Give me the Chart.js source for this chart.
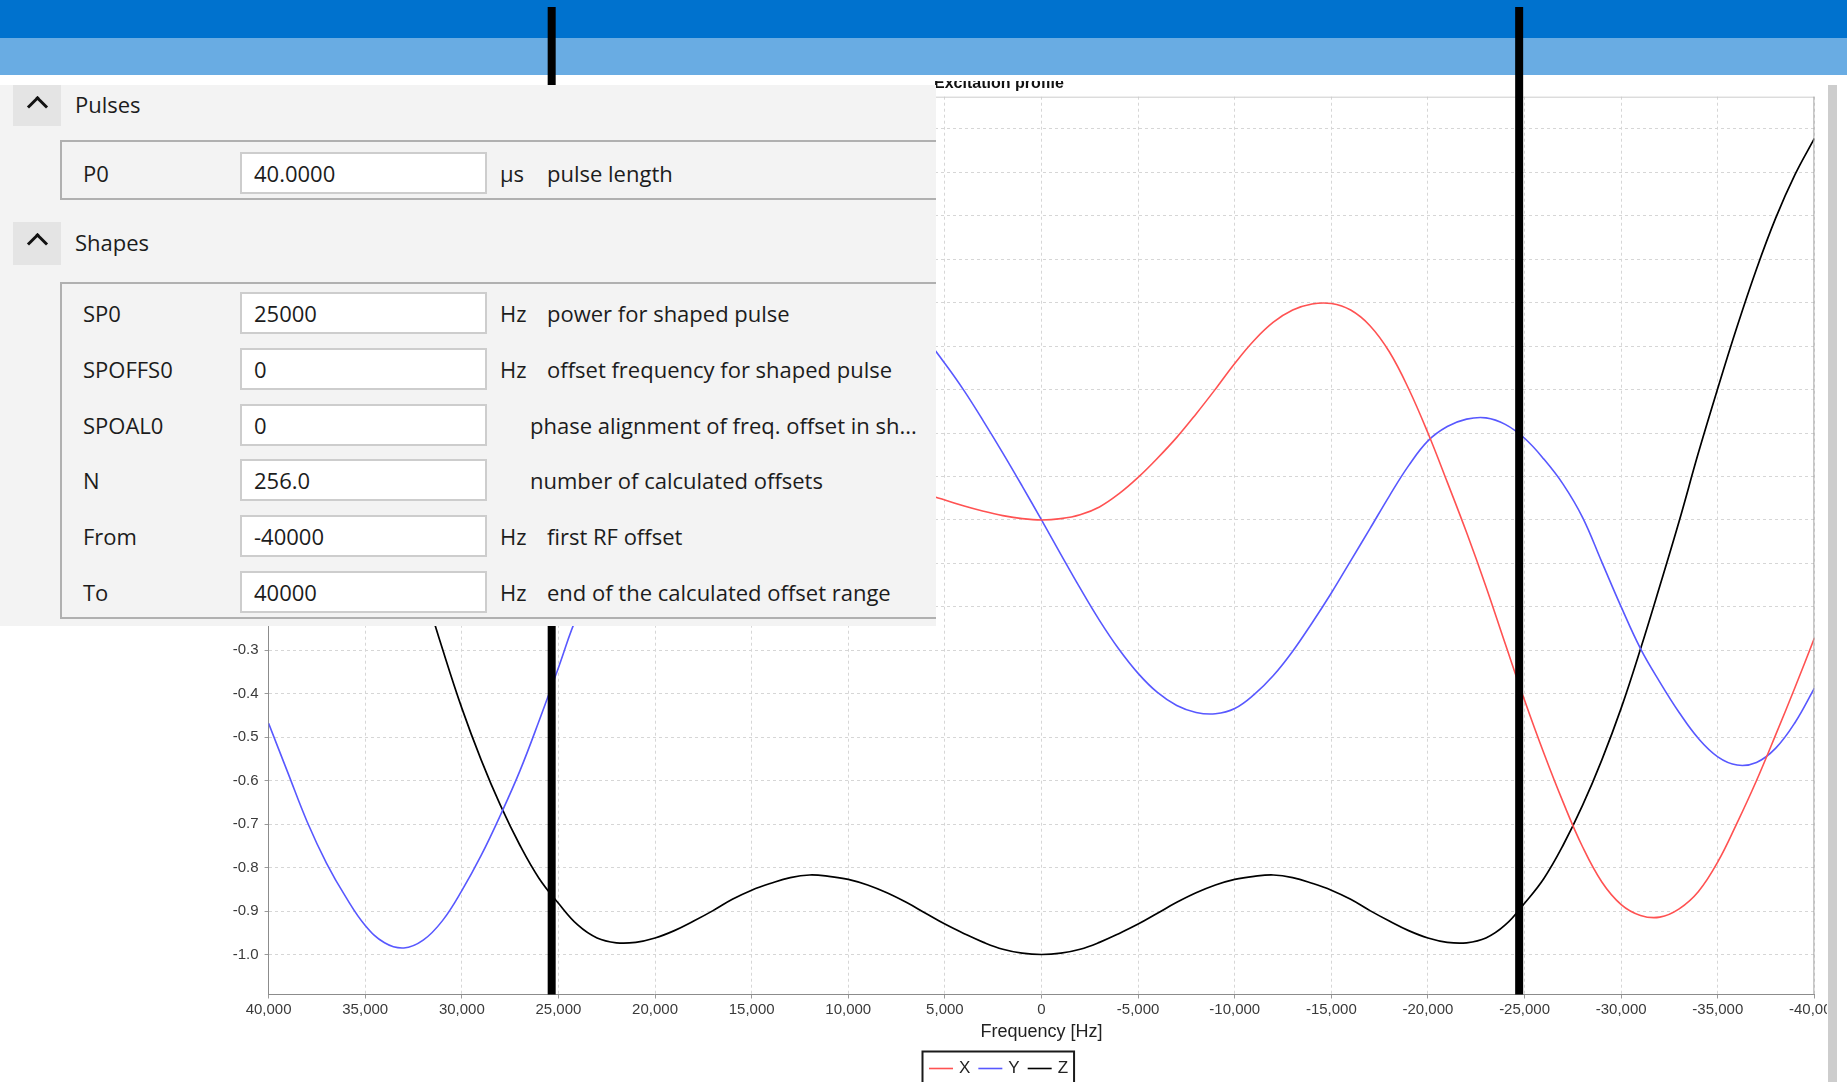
<!DOCTYPE html>
<html>
<head>
<meta charset="utf-8">
<title>Excitation profile</title>
<script src="https://cdn.jsdelivr.net/npm/chart.js@4.4.1/dist/chart.umd.min.js"></script>
<style>
  html, body { margin: 0; padding: 0; background: #fff; width: 1847px; height: 1082px; overflow: hidden; }
  #chart { position: absolute; left: 0; top: 0; z-index: 1; }
  .panel {
    position: absolute; left: 0; top: 85px; width: 936px; height: 541px;
    background: #f3f3f3; overflow: hidden; z-index: 3;
    font-family: "Open Sans", "Noto Sans", sans-serif; font-size: 22px; color: #1c1c1c;
  }
  .toggle { position: absolute; left: 13px; width: 48px; height: 41px; background: #e4e4e4; }
  .toggle::before {
    content: ""; position: absolute; left: 17px; top: 14px; width: 15px; height: 15px;
    box-sizing: border-box; border-left: 3.5px solid #111; border-top: 3.5px solid #111;
    transform: rotate(45deg);
  }
  .section { position: absolute; left: 75px; line-height: 22px; white-space: nowrap; }
  .group { position: absolute; left: 60px; width: 920px; box-sizing: border-box; border: 2px solid #b0b0b0; }
  .row { position: absolute; left: 0; width: 936px; height: 42px; line-height: 42px; white-space: nowrap; }
  .row span { position: absolute; top: 0; }
  .row .field {
    left: 240px; width: 247px; height: 42px; box-sizing: border-box;
    background: #fff; border: 2px solid #cdcdcd; padding-left: 12px; line-height: 38px;
  }
  .scroll { position: absolute; left: 1827px; top: 81px; width: 20px; height: 1001px; background: #fff; z-index: 2; }
  .scroll::before { content: ""; position: absolute; left: 1px; top: 4px; width: 9px; bottom: 0; background: #cdcdcd; }
</style>
</head>
<body>
<canvas id="chart" width="1847" height="1082"></canvas>
<div class="scroll"></div>
<div class="panel" id="panel"></div>

<script>
// Offset frequencies (Hz), left to right on the reversed axis
const freqHz = [
  40000, 39000, 38000, 37000, 36000, 35000, 34000, 33000, 32000, 31000,
  30000, 29000, 28000, 27000, 26000, 25000, 24000, 23000, 22000, 21000,
  20000, 19000, 18000, 17000, 16000, 15000, 14000, 13000, 12000, 11000,
  10000, 9000, 8000, 7000, 6000, 5000, 4000, 3000, 2000, 1000,
  0,
  -1000, -2000, -3000, -4000, -5000, -6000, -7000, -8000, -9000, -10000,
  -11000, -12000, -13000, -14000, -15000, -16000, -17000, -18000, -19000, -20000,
  -21000, -22000, -23000, -24000, -25000, -26000, -27000, -28000, -29000, -30000,
  -31000, -32000, -33000, -34000, -35000, -36000, -37000, -38000, -39000, -40000
];

// Magnetisation components after the pulse
const xValues = [
  0.12, 0.14, 0.15, 0.155, 0.16, 0.16, 0.17, 0.19, 0.22, 0.26,
  0.29, 0.31, 0.32, 0.33, 0.34, 0.33, 0.287, 0.237, 0.208, 0.222,
  0.266, 0.325, 0.382, 0.433, 0.471, 0.494, 0.49, 0.47, 0.43, 0.35,
  0.28, 0.21, 0.15, 0.1, 0.062, 0.046, 0.032, 0.02, 0.01, 0.003,
  0.0,
  0.003, 0.012, 0.03, 0.06, 0.098, 0.142, 0.19, 0.244, 0.301, 0.36,
  0.413, 0.455, 0.483, 0.497, 0.498, 0.483, 0.447, 0.387, 0.302, 0.2,
  0.087, -0.029, -0.153, -0.285, -0.415, -0.537, -0.65, -0.752, -0.833, -0.885,
  -0.91, -0.914, -0.895, -0.855, -0.787, -0.697, -0.6, -0.494, -0.385, -0.272
];
const yValues = [
  -0.468, -0.582, -0.695, -0.79, -0.868, -0.933, -0.973, -0.985, -0.967, -0.922,
  -0.853, -0.772, -0.679, -0.578, -0.462, -0.34, -0.218, -0.14, -0.09, -0.072,
  -0.058, -0.035, 0.002, 0.052, 0.111, 0.178, 0.244, 0.308, 0.368, 0.415,
  0.45, 0.464, 0.462, 0.446, 0.415, 0.36, 0.297, 0.227, 0.154, 0.078,
  0.0,
  -0.079, -0.157, -0.231, -0.297, -0.353, -0.397, -0.427, -0.443, -0.446, -0.434,
  -0.402, -0.358, -0.302, -0.237, -0.168, -0.094, -0.02, 0.055, 0.125, 0.182,
  0.215, 0.232, 0.235, 0.22, 0.188, 0.14, 0.082, 0.006, -0.097, -0.2,
  -0.296, -0.373, -0.443, -0.503, -0.545, -0.564, -0.558, -0.525, -0.466, -0.387
];
const zValues = [
  0.878, 0.795, 0.695, 0.577, 0.445, 0.303, 0.155, -0.003, -0.152, -0.297,
  -0.433, -0.552, -0.657, -0.748, -0.825, -0.882, -0.932, -0.962, -0.973, -0.972,
  -0.962, -0.945, -0.923, -0.899, -0.873, -0.852, -0.836, -0.823, -0.817, -0.82,
  -0.827, -0.84, -0.858, -0.88, -0.905, -0.93, -0.952, -0.972, -0.988, -0.997,
  -1.0,
  -0.997, -0.988, -0.972, -0.952, -0.93, -0.905, -0.88, -0.858, -0.84, -0.827,
  -0.82, -0.817, -0.823, -0.836, -0.852, -0.873, -0.899, -0.923, -0.945, -0.962,
  -0.972, -0.973, -0.962, -0.932, -0.882, -0.825, -0.748, -0.657, -0.552, -0.433,
  -0.297, -0.152, -0.003, 0.155, 0.303, 0.445, 0.577, 0.695, 0.795, 0.878
];

const seriesNames = ['X', 'Y', 'Z'];
const seriesColors = ['rgb(255, 82, 82)', 'rgb(88, 88, 255)', '#000000'];

// Vertical cursor markers (Hz)
const markerFreqHz = [25350, -24720];

// Axis settings
const xRange = [-40000, 40000];
const xTickStep = 5000;
const yRange = [-1.092, 0.974];
const yTickStep = 0.1;

// Parameter panel contents
const pulseParams = { name: 'P0', value: '40.0000', unit: 'µs', desc: 'pulse length' };
const shapeNames = ['SP0', 'SPOFFS0', 'SPOAL0', 'N', 'From', 'To'];
const shapeValues = ['25000', '0', '0', '256.0', '-40000', '40000'];
const shapeUnits = ['Hz', 'Hz', '', '', 'Hz', 'Hz'];
const shapeDescs = [
  'power for shaped pulse',
  'offset frequency for shaped pulse',
  'phase alignment of freq. offset in sh...',
  'number of calculated offsets',
  'first RF offset',
  'end of the calculated offset range'
];

// ---- parameter panel ----
const panel = document.getElementById('panel');
function addEl(cls, style, text) {
  const d = document.createElement('div');
  d.className = cls;
  Object.assign(d.style, style);
  if (text) d.textContent = text;
  panel.appendChild(d);
  return d;
}
function addRow(top, p) {
  const r = addEl('row', { top: top + 'px' });
  const parts = [
    ['', 83, p.name],
    ['field', null, p.value],
    ['', 500, p.unit],
    ['', p.unit ? 547 : 530, p.desc]
  ];
  parts.forEach(([cls, left, txt]) => {
    const s = document.createElement('span');
    if (cls) s.className = cls;
    if (left !== null) s.style.left = left + 'px';
    s.textContent = txt;
    r.appendChild(s);
  });
}
addEl('toggle', { top: '0px' });
addEl('section', { top: '7.5px' }, 'Pulses');
addEl('group', { top: '55px', height: '60px' });
addRow(67, pulseParams);

addEl('toggle', { top: '137px', height: '43px' });
addEl('section', { top: '145.5px' }, 'Shapes');
addEl('group', { top: '196.5px', height: '337.5px' });
shapeNames.forEach((n, i) => {
  addRow(206.7 + i * 55.9, { name: n, value: shapeValues[i], unit: shapeUnits[i], desc: shapeDescs[i] });
});

// ---- chart ----
const toPoints = vals => freqHz.map((f, i) => ({ x: f, y: vals[i] }));
const tickFont = { family: '"Liberation Sans", Arial, sans-serif', size: 15 };

const decorations = {
  id: 'decorations',
  afterDraw(chart) {
    const { ctx, chartArea: a, scales: { x } } = chart;
    const W = chart.width;
    ctx.save();

    // plot outline (top and right edges)
    ctx.lineWidth = 1;
    ctx.strokeStyle = '#cccccc';
    ctx.beginPath(); ctx.moveTo(a.left, a.top + 0.5); ctx.lineTo(a.right, a.top + 0.5); ctx.stroke();
    ctx.strokeStyle = '#a4a4a4';
    ctx.beginPath(); ctx.moveTo(a.right - 0.5, a.top); ctx.lineTo(a.right - 0.5, a.bottom); ctx.stroke();

    // chart title
    ctx.font = 'bold 16px "Liberation Sans", Arial, sans-serif';
    ctx.fillStyle = '#111';
    ctx.textAlign = 'left';
    ctx.textBaseline = 'alphabetic';
    ctx.fillText('Excitation profile', 934, 87.5);

    // window header bars
    ctx.fillStyle = '#0072ce'; ctx.fillRect(0, 0, W, 38);
    ctx.fillStyle = '#69ace3'; ctx.fillRect(0, 38, W, 37);
    ctx.fillStyle = '#ffffff'; ctx.fillRect(0, 75, W, 6);

    // frequency markers
    ctx.fillStyle = '#000';
    markerFreqHz.forEach(f => {
      const px = x.getPixelForValue(f);
      ctx.fillRect(px - 4, 7, 8, a.bottom - 7);
    });

    // legend
    const lx = 922.5, ly = 1051.5;
    ctx.font = '17px "Liberation Sans", Arial, sans-serif';
    ctx.textBaseline = 'middle';
    let cx = lx + 6.5;
    const cy = 1068.5;
    seriesNames.forEach((n, i) => {
      ctx.strokeStyle = seriesColors[i];
      ctx.lineWidth = 1.6;
      ctx.beginPath(); ctx.moveTo(cx, cy); ctx.lineTo(cx + 24, cy); ctx.stroke();
      cx += 30;
      ctx.fillStyle = '#222';
      ctx.fillText(n, cx, cy);
      cx += ctx.measureText(n).width + 8;
    });
    ctx.strokeStyle = '#1a1a1a';
    ctx.lineWidth = 2;
    ctx.strokeRect(lx, ly, cx - lx - 2, 40);

    ctx.restore();
  }
};

new Chart(document.getElementById('chart'), {
  type: 'line',
  data: {
    datasets: seriesNames.map((n, i) => ({
      label: n,
      data: toPoints([xValues, yValues, zValues][i]),
      borderColor: seriesColors[i],
      backgroundColor: seriesColors[i],
      borderWidth: i === 2 ? 1.7 : 1.6,
      pointRadius: 0,
      fill: false,
      tension: 0.4
    }))
  },
  options: {
    responsive: false,
    animation: false,
    devicePixelRatio: 1,
    layout: { padding: { left: 0, right: 32.6, top: 96.7, bottom: 0 } },
    plugins: { legend: { display: false }, title: { display: false }, tooltip: { enabled: false } },
    scales: {
      x: {
        type: 'linear',
        reverse: true,
        min: xRange[0],
        max: xRange[1],
        ticks: {
          stepSize: xTickStep, autoSkip: false, maxRotation: 0, padding: 2,
          color: '#3a3a3a', font: tickFont,
          callback: v => (v === 0 ? '0' : Number(v).toLocaleString('en-US'))
        },
        grid: { color: '#d6d6d6', lineWidth: 1, tickColor: '#9a9a9a', tickLength: 4 },
        border: { color: '#8c8c8c', width: 1, dash: [3, 3] },
        title: {
          display: true, text: 'Frequency [Hz]', color: '#222',
          font: { family: '"Liberation Sans", Arial, sans-serif', size: 18 },
          padding: { top: 0, bottom: 39 }
        },
        afterFit: s => { s.height = 87.5; }
      },
      y: {
        type: 'linear',
        min: yRange[0],
        max: yRange[1],
        ticks: {
          stepSize: yTickStep, includeBounds: false, padding: 6,
          color: '#3a3a3a', font: tickFont,
          callback: v => Number(v).toFixed(1)
        },
        grid: { color: '#d6d6d6', lineWidth: 1, tickColor: '#9a9a9a', tickLength: 4 },
        border: { color: '#8c8c8c', width: 1, dash: [3, 3] },
        afterFit: s => { s.width = 268.6; }
      }
    }
  },
  plugins: [decorations]
});
</script>
</body>
</html>
